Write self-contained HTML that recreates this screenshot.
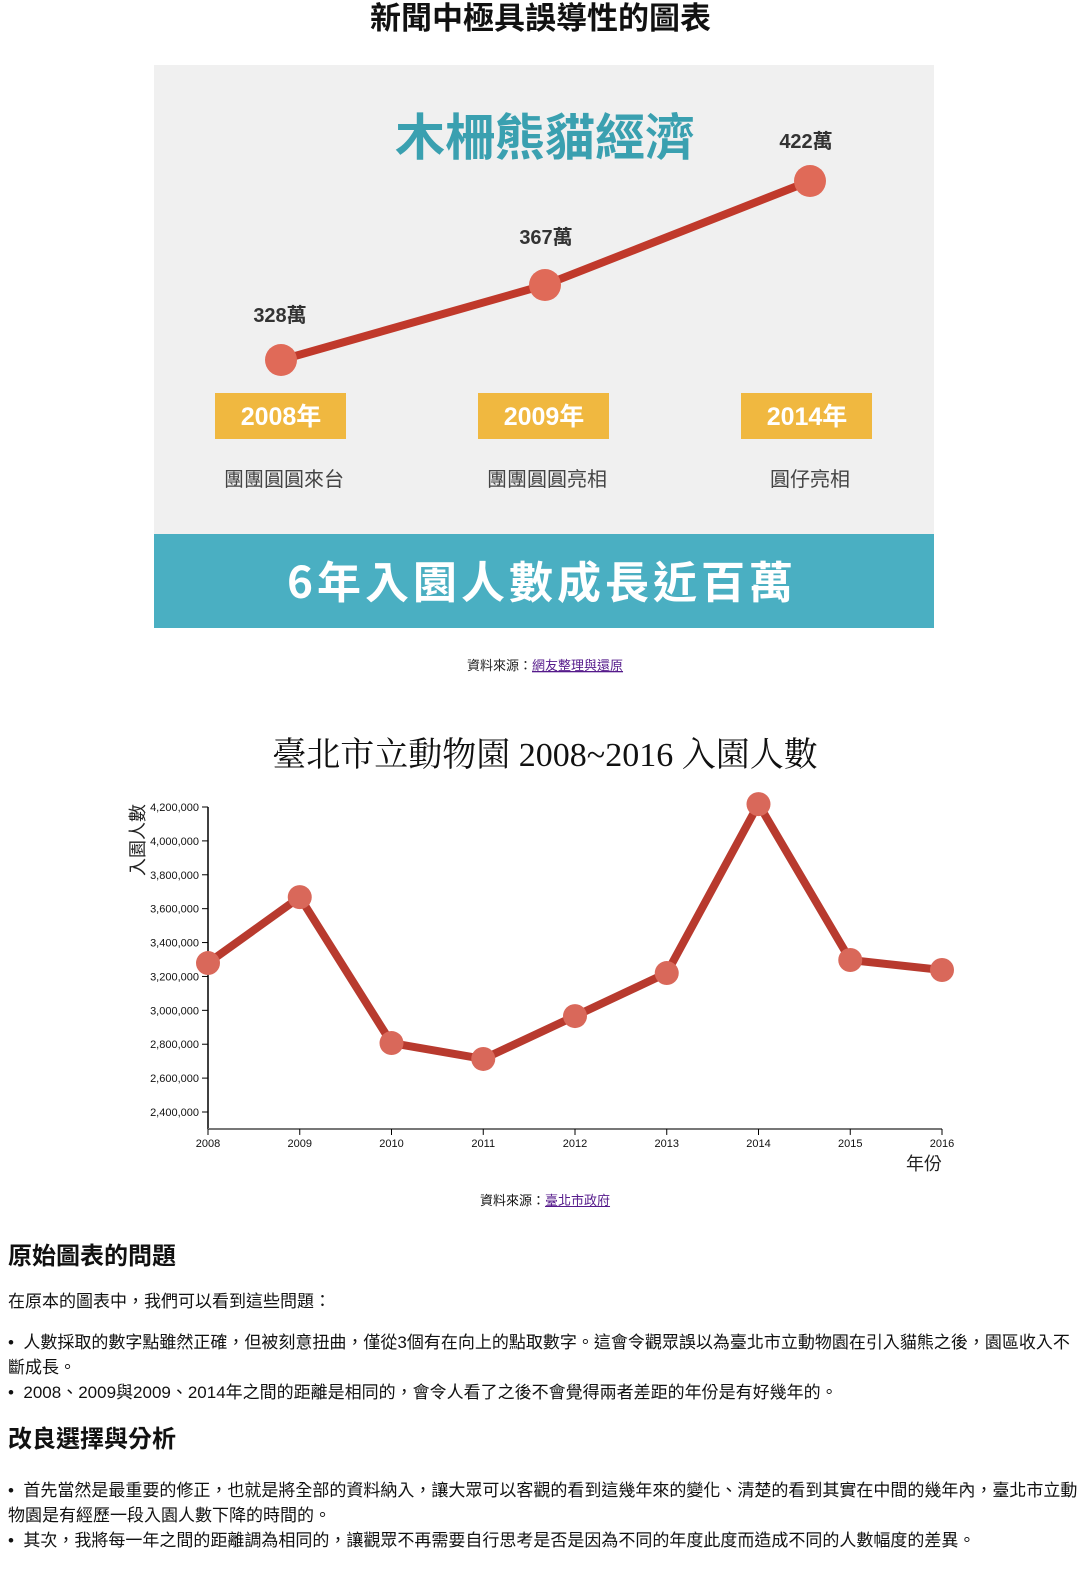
<!DOCTYPE html>
<html><head><meta charset="utf-8"><style>
body{margin:0;width:1081px;height:1575px;background:#fff;font-family:"Liberation Sans","Noto Sans CJK TC",sans-serif;color:#111;position:relative;overflow:hidden}
.abs{position:absolute}
p,li{font-size:17px}
</style></head><body>
<div class="abs" style="left:0;width:1081px;top:0;text-align:center;font-size:31px;font-weight:bold;line-height:38px">新聞中極具誤導性的圖表</div>

<svg class="abs" style="left:0;top:0" width="1081" height="700">
<rect x="154" y="65" width="780" height="470" fill="#f0f0f0"/>
<text x="545" y="155" text-anchor="middle" font-size="50" font-weight="bold" fill="#3aa0b0" font-family="Noto Sans CJK TC, sans-serif">木柵熊貓經濟</text>
<polyline points="281,360 545,285 810,181" fill="none" stroke="#c0392b" stroke-width="8"/>
<g fill="#e06a58"><circle cx="281" cy="360" r="16"/><circle cx="545" cy="285" r="16"/><circle cx="810" cy="181" r="16"/></g>
<g font-size="20" font-weight="bold" fill="#333" text-anchor="middle" font-family="Liberation Sans, Noto Sans CJK TC, sans-serif">
<text x="280" y="322">328萬</text><text x="546" y="244">367萬</text><text x="806" y="148">422萬</text></g>
<g fill="#f0b840"><rect x="215" y="393" width="131" height="46"/><rect x="478" y="393" width="131" height="46"/><rect x="741" y="393" width="131" height="46"/></g>
<g font-size="25" font-weight="bold" fill="#fff" text-anchor="middle"><text x="281" y="425">2008年</text><text x="544" y="425">2009年</text><text x="807" y="425">2014年</text></g>
<g font-size="20" fill="#444" text-anchor="middle" font-family="Noto Sans CJK TC, sans-serif"><text x="284" y="486">團團圓圓來台</text><text x="547" y="486">團團圓圓亮相</text><text x="810" y="486">圓仔亮相</text></g>
<rect x="154" y="534" width="780" height="94" fill="#4aafc2"/>
<text x="542" y="598" text-anchor="middle" font-size="44" font-weight="bold" fill="#fff" letter-spacing="4" font-family="Noto Sans CJK TC, sans-serif">6年入園人數成長近百萬</text>
<text x="545" y="670" text-anchor="middle" font-size="13" fill="#222" font-family="Noto Sans CJK TC, sans-serif">資料來源：<tspan fill="#551a8b" text-decoration="underline">網友整理與還原</tspan></text>
</svg>

<div class="abs" style="left:0;width:1090px;top:727px;text-align:center;font-size:34px;font-family:'Liberation Serif','Noto Serif CJK SC',serif">臺北市立動物園 2008~2016 入園人數</div>

<svg id="chart" class="abs" style="left:0;top:780px" width="1081" height="440"></svg>
<div class="abs" style="left:0;width:1090px;top:1190px;text-align:center;font-size:13px">資料來源：<a href="#" style="color:#551a8b">臺北市政府</a></div>

<div class="abs" style="left:8px;top:1244px;width:1070px;line-height:25px">
<div style="font-size:24px;font-weight:bold">原始圖表的問題</div>
<div style="font-size:17px;margin-top:20px">在原本的圖表中，我們可以看到這些問題：</div>
<div style="font-size:17px;margin-top:16px">•&nbsp;&nbsp;人數採取的數字點雖然正確，但被刻意扭曲，僅從3個有在向上的點取數字。這會令觀眾誤以為臺北市立動物園在引入貓熊之後，園區收入不斷成長。</div>
<div style="font-size:17px">•&nbsp;&nbsp;2008、2009與2009、2014年之間的距離是相同的，會令人看了之後不會覺得兩者差距的年份是有好幾年的。</div>
<div style="font-size:24px;font-weight:bold;margin-top:22px">改良選擇與分析</div>
<div style="font-size:17px;margin-top:26px">•&nbsp;&nbsp;首先當然是最重要的修正，也就是將全部的資料納入，讓大眾可以客觀的看到這幾年來的變化、清楚的看到其實在中間的幾年內，臺北市立動物園是有經歷一段入園人數下降的時間的。</div>
<div style="font-size:17px">•&nbsp;&nbsp;其次，我將每一年之間的距離調為相同的，讓觀眾不再需要自行思考是否是因為不同的年度此度而造成不同的人數幅度的差異。</div>
</div>

<script>
const years = [2008,2009,2010,2011,2012,2013,2014,2015,2016];
const visitors = [3279000,3668000,2807000,2713000,2966000,3220000,4217000,3297000,3238000];
const yTicks = [2400000,2600000,2800000,3000000,3200000,3400000,3600000,3800000,4000000,4200000];
const NS='http://www.w3.org/2000/svg';
const svg=document.getElementById('chart');
const x=v=>208+(v-2008)*(942-208)/8;
const y=v=>(1112-780)-(v-2400000)*(305/1800000);
function mk(t,a,p){const e=document.createElementNS(NS,t);for(const k in a)e.setAttribute(k,a[k]);(p||svg).appendChild(e);return e;}
mk('line',{x1:208,x2:208,y1:y(4200000),y2:y(2300000),stroke:'#000','stroke-width':1.5});
mk('line',{x1:208,x2:942,y1:y(2300000),y2:y(2300000),stroke:'#777','stroke-width':2});
yTicks.forEach(t=>{
 const l=mk('line',{x1:202,x2:208,y1:y(t),y2:y(t),stroke:'#000'});
 
 
 const tx=mk('text',{x:199,y:y(t)+4,'text-anchor':'end','font-size':11,fill:'#111'});
 tx.textContent=t.toLocaleString('en-US');
 
 
});
years.forEach(yr=>{
 mk('line',{x1:x(yr),x2:x(yr),y1:y(2300000),y2:y(2300000)+6,stroke:'#000'});
 const tx=mk('text',{x:x(yr),y:y(2300000)+18,'text-anchor':'middle','font-size':11,fill:'#111'});
 tx.textContent=yr;
 
 
});
const xt=mk('text',{x:924,y:390,'text-anchor':'middle','font-size':18,fill:'#222'});
xt.textContent='年份';


const yt=mk('text',{x:0,y:0,'text-anchor':'middle','font-size':18,fill:'#222',transform:'translate(144,60) rotate(-90)'});
yt.textContent='入園人數';


const line=mk('polyline',{points:years.map((yr,i)=>x(yr)+','+y(visitors[i])).join(' '),fill:'none',stroke:'#b83a2e','stroke-width':8,'stroke-linejoin':'round'});


years.forEach((yr,i)=>{
 const c=mk('circle',{cx:x(yr),cy:y(visitors[i]),r:12,fill:'#d9685a'});
 
 
});
</script>
</body></html>
